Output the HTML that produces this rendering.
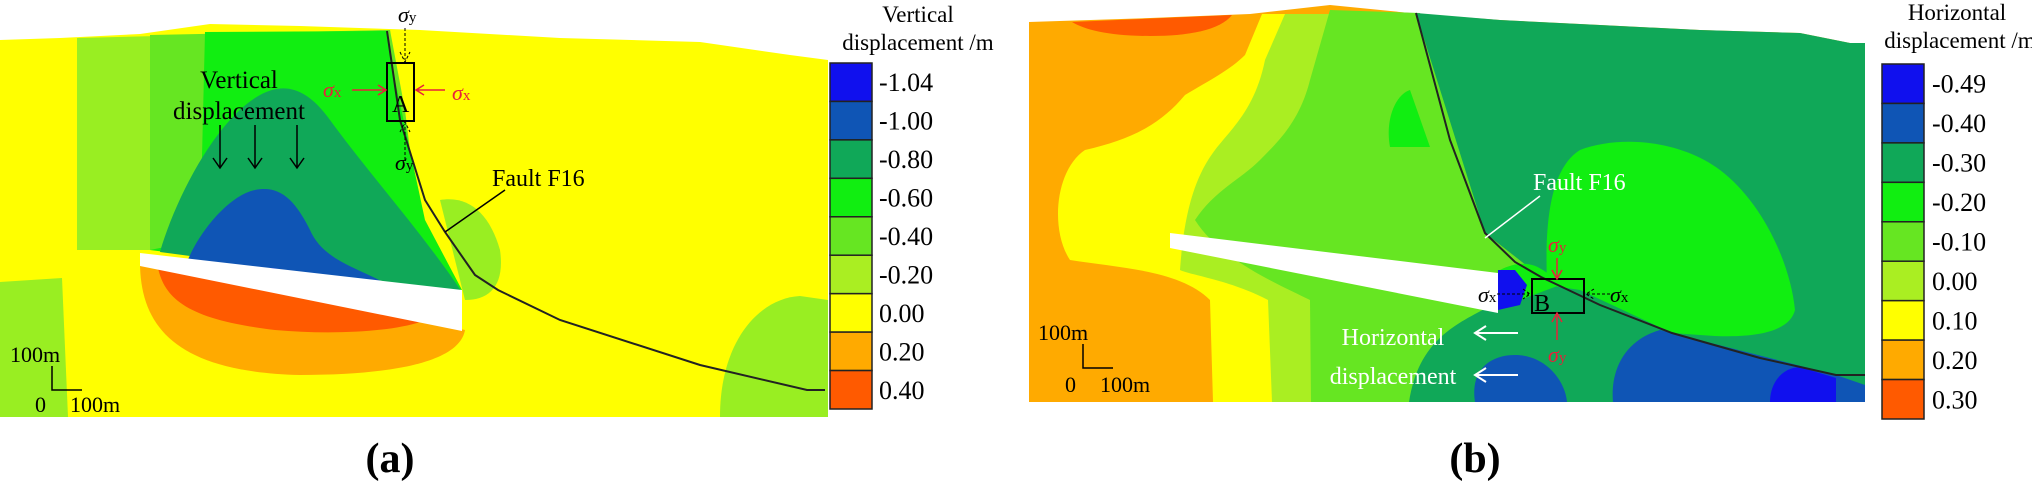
<!DOCTYPE html>
<html><head><meta charset="utf-8"><style>
html,body{margin:0;padding:0;background:#fff;}
svg{display:block;font-family:"Liberation Serif",serif;}
</style></head><body>
<svg id="fig" width="2032" height="481" viewBox="0 0 2032 481">
<!-- Panel A -->
<g>
  <path d="M0,40 L60,38 L140,34 L210,24 L300,26 L420,30 L560,38 L700,42 L790,55 L828,60 L828,417 L0,417 Z" fill="#ffff00"/>
  <path d="M77,38 L390,30 L395,70 L420,230 L150,250 L77,250 Z" fill="#99ee22"/>
  <path d="M150,35 L390,30 L405,110 L420,230 L300,255 L150,250 Z" fill="#66e622"/>
  <path d="M205,32 L387,31 L395,80 L425,220 L462,290 L150,250 L200,240 Z" fill="#11ee11"/>
  <path d="M160,252 C175,200 215,120 260,95 C282,83 305,85 330,120 C370,175 420,230 462,292 Z" fill="#10a858"/>
  <path d="M187,262 C200,230 230,195 255,190 C280,185 295,200 310,230 C325,265 370,270 395,290 L403,297 Z" fill="#0f55b5"/>
  <path d="M256,275 C262,268 275,264 290,275 Z" fill="#1010ee"/>
  <path d="M440,200 C470,195 490,215 500,250 C505,285 490,300 465,300 Z" fill="#99ee22"/>
  <path d="M140,262 L465,330 C460,360 400,375 300,375 C180,372 140,330 140,262 Z" fill="#ffaa00"/>
  <path d="M158,268 L420,322 C390,332 330,335 275,330 C190,320 165,300 158,268 Z" fill="#ff5a00"/>
  <path d="M140,253 L462,290 L462,331 L140,266 Z" fill="#ffffff"/>
  <path d="M720,417 C720,340 760,298 800,296 L828,300 L828,417 Z" fill="#99ee22"/>
  <path d="M0,282 L62,278 L68,417 L0,417 Z" fill="#99ee22"/>
  <path d="M387,31 L400,120 L425,200 L445,232 L475,275 L498,290 L560,320 L700,365 L807,390 L825,390" fill="none" stroke="#222" stroke-width="2"/>
</g>
<g>
  <text x="239" y="88" font-size="25" text-anchor="middle">Vertical</text>
  <text x="239" y="119" font-size="25" text-anchor="middle">displacement</text>
  <g stroke="#000" stroke-width="1.5" fill="none">
    <path d="M220,125 V168 M213,158 L220,168 L227,158"/>
    <path d="M255,125 V168 M248,158 L255,168 L262,158"/>
    <path d="M297,125 V168 M290,158 L297,168 L304,158"/>
  </g>
  <rect x="387" y="63" width="27" height="58" fill="none" stroke="#000" stroke-width="2"/>
  <text x="392" y="112" font-size="24">A</text>
  <text x="398" y="22" font-size="22" font-style="italic">σ<tspan font-size="15" font-style="normal">y</tspan></text>
  <path d="M405,28 V60 M400,52 L405,62 L410,52" stroke="#000" stroke-dasharray="3,2" fill="none"/>
  <path d="M405,160 V124 M400,132 L405,122 L410,132" stroke="#000" stroke-dasharray="3,2" fill="none"/>
  <text x="395" y="170" font-size="22" font-style="italic">σ<tspan font-size="15" font-style="normal">y</tspan></text>
  <text x="323" y="97" font-size="22" font-style="italic" fill="#e8203a">σ<tspan font-size="15" font-style="normal">x</tspan></text>
  <path d="M352,90 H385 M378,85 L386,90 L378,95" stroke="#e8203a" stroke-width="1.5" fill="none"/>
  <path d="M445,90 H417 M424,85 L416,90 L424,95" stroke="#e8203a" stroke-width="1.5" fill="none"/>
  <text x="452" y="100" font-size="22" font-style="italic" fill="#e8203a">σ<tspan font-size="15" font-style="normal">x</tspan></text>
  <text x="492" y="186" font-size="24">Fault F16</text>
  <path d="M505,190 L445,232" stroke="#000" stroke-width="1.5"/>
  <text x="10" y="362" font-size="22">100m</text>
  <path d="M52,366 V390 H82" stroke="#000" stroke-width="1.5" fill="none"/>
  <text x="35" y="412" font-size="22">0</text>
  <text x="70" y="412" font-size="22">100m</text>
  <text x="390" y="472" font-size="42" font-weight="bold" text-anchor="middle">(a)</text>
</g>
<g id="cbA">
  <text x="918" y="22" font-size="23" text-anchor="middle">Vertical</text>
  <text x="918" y="50" font-size="23" text-anchor="middle">displacement /m</text>
</g>

<!-- Panel B -->
<g>
  <path d="M1029,22 L1150,18 L1250,14 L1330,5 L1420,14 L1500,20 L1600,25 L1700,30 L1800,33 L1850,43 L1865,43 L1865,402 L1029,402 Z" fill="#ffaa00"/>
  <path d="M1072,22 L1232,15 C1220,30 1190,36 1150,36 C1110,36 1085,30 1072,22 Z" fill="#ff5a00"/>
  <path d="M1262,14 L1420,14 L1420,402 L1213,402 L1210,300 C1180,270 1120,268 1070,260 C1050,230 1055,170 1085,150 C1130,140 1160,125 1185,95 C1210,80 1230,70 1245,55 Z" fill="#ffff00"/>
  <path d="M1285,14 L1420,14 L1420,402 L1272,402 L1268,300 C1230,280 1190,275 1180,270 C1185,200 1200,170 1215,150 C1230,130 1255,110 1265,60 Z" fill="#aaee22"/>
  <path d="M1330,10 L1420,13 L1485,233 L1541,277 L1500,300 L1420,402 L1311,402 L1310,300 C1280,285 1220,260 1195,220 C1215,190 1240,180 1260,160 C1280,140 1300,120 1310,80 Z" fill="#66e622"/>
  <path d="M1390,147 C1385,120 1395,95 1410,90 L1430,147 Z" fill="#11ee11"/>
  <path d="M1416,13 L1500,20 L1600,25 L1700,30 L1800,33 L1850,43 L1865,43 L1865,402 L1409,402 C1420,330 1470,320 1500,300 L1541,277 L1485,233 Z" fill="#10a858"/>
  <path d="M1547,285 C1545,230 1548,170 1580,150 C1620,135 1680,140 1720,170 C1760,200 1790,260 1795,310 C1790,330 1760,340 1700,335 L1672,333 L1580,290 Z" fill="#11ee11"/>
  <path d="M1500,270 C1530,255 1545,270 1560,285 L1520,300 Z" fill="#11ee11"/>
  <path d="M1475,402 C1470,370 1490,355 1515,355 C1545,355 1565,380 1567,402 Z" fill="#0f55b5"/>
  <path d="M1613,402 C1610,370 1625,340 1660,330 L1836,375 L1865,385 L1865,402 Z" fill="#0f55b5"/>
  <path d="M1770,402 C1770,385 1780,368 1800,367 L1836,378 L1836,402 Z" fill="#1010ee"/>
  <path d="M1498,270 L1515,270 L1527,285 L1520,305 L1498,310 Z" fill="#1010ee"/>
  <path d="M1170,233 L1498,273 L1498,313 L1170,248 Z" fill="#ffffff"/>
  <path d="M1416,13 L1450,140 L1485,233 L1515,262 L1541,277 L1600,305 L1672,333 L1760,358 L1836,375 L1865,375" fill="none" stroke="#222" stroke-width="2"/>
</g>
<g>
  <text x="1533" y="190" font-size="24" fill="#fff">Fault F16</text>
  <path d="M1540,196 L1485,238" stroke="#fff" stroke-width="1.5"/>
  <rect x="1532" y="279" width="52" height="34" fill="none" stroke="#000" stroke-width="2"/>
  <text x="1534" y="311" font-size="24">B</text>
  <text x="1548" y="252" font-size="22" font-style="italic" fill="#e8203a">σ<tspan font-size="15" font-style="normal">y</tspan></text>
  <path d="M1557,258 V278 M1552,270 L1557,279 L1562,270" stroke="#e8203a" stroke-width="1.5" fill="none"/>
  <path d="M1557,340 V314 M1552,322 L1557,313 L1562,322" stroke="#e8203a" stroke-width="1.5" fill="none"/>
  <text x="1548" y="362" font-size="22" font-style="italic" fill="#e8203a">σ<tspan font-size="15" font-style="normal">y</tspan></text>
  <text x="1478" y="302" font-size="22" font-style="italic">σ<tspan font-size="15" font-style="normal">x</tspan></text>
  <path d="M1497,294 H1529 M1523,289 L1530,294 L1523,299" stroke="#000" stroke-dasharray="3,2" fill="none"/>
  <path d="M1610,294 H1587 M1594,289 L1586,294 L1594,299" stroke="#000" stroke-dasharray="3,2" fill="none"/>
  <text x="1610" y="302" font-size="22" font-style="italic">σ<tspan font-size="15" font-style="normal">x</tspan></text>
  <text x="1393" y="345" font-size="24" fill="#fff" text-anchor="middle">Horizontal</text>
  <text x="1393" y="384" font-size="24" fill="#fff" text-anchor="middle">displacement</text>
  <path d="M1518,333 H1476 M1486,326 L1475,333 L1486,340 M1518,375 H1476 M1486,368 L1475,375 L1486,382" stroke="#fff" stroke-width="2" fill="none"/>
  <text x="1038" y="340" font-size="22">100m</text>
  <path d="M1083,344 V368 H1113" stroke="#000" stroke-width="1.5" fill="none"/>
  <text x="1065" y="392" font-size="22">0</text>
  <text x="1100" y="392" font-size="22">100m</text>
  <text x="1475" y="472" font-size="42" font-weight="bold" text-anchor="middle">(b)</text>
</g>
<g id="cbB">
  <text x="1957" y="20" font-size="23" text-anchor="middle">Horizontal</text>
  <text x="1960" y="48" font-size="23" text-anchor="middle">displacement /m</text>
</g>
</svg>
<script>
const labelsA = ["-1.04","-1.00","-0.80","-0.60","-0.40","-0.20","0.00","0.20","0.40"];
const colorsA = ["#1010ee","#0f55b5","#10a858","#11ee11","#66e622","#aaee22","#ffff00","#ffaa00","#ff5a00"];
const labelsB = ["-0.49","-0.40","-0.30","-0.20","-0.10","0.00","0.10","0.20","0.30"];
const colorsB = ["#1010ee","#0f55b5","#10a858","#11ee11","#66e622","#aaee22","#ffff00","#ffaa00","#ff5a00"];
const NS = "http://www.w3.org/2000/svg";
function drawBar(gid, labels, colors, x, y0, y1, w, lx) {
  const g = document.getElementById(gid);
  const h = (y1 - y0) / labels.length;
  labels.forEach((lab, i) => {
    const r = document.createElementNS(NS, "rect");
    r.setAttribute("x", x); r.setAttribute("y", y0 + i * h);
    r.setAttribute("width", w); r.setAttribute("height", h);
    r.setAttribute("fill", colors[i]); r.setAttribute("stroke", "#222"); r.setAttribute("stroke-width", "1.5");
    
    
    g.appendChild(r);
    const t = document.createElementNS(NS, "text");
    t.setAttribute("x", lx); t.setAttribute("y", y0 + i * h + h / 2 + 9);
    t.setAttribute("font-size", "26");
    t.textContent = lab;
    
    
    g.appendChild(t);
  });
}
drawBar("cbA", labelsA, colorsA, 830, 63, 409, 42, 879);
drawBar("cbB", labelsB, colorsB, 1882, 64, 419, 42, 1932);
</script>
</body></html>
